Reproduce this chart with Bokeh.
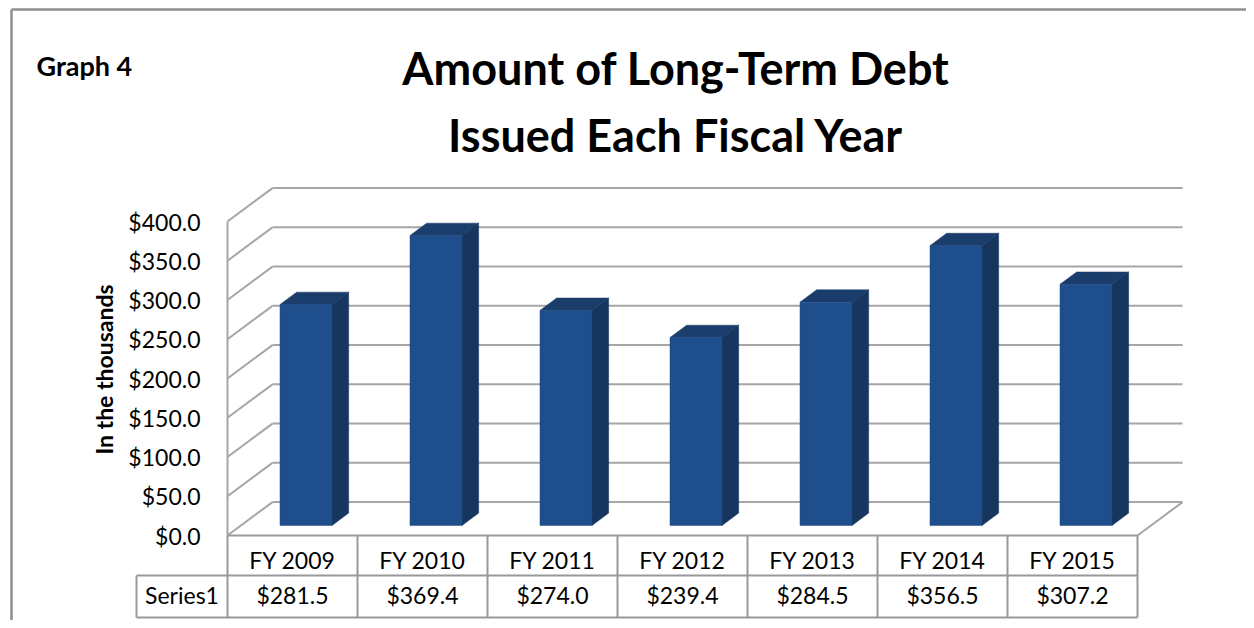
import math
from bokeh.plotting import figure
from bokeh.models import Range1d, LinearAxis, FixedTicker, NumeralTickFormatter, ColumnDataSource
from bokeh.core.properties import value
from bokeh.embed import file_html
from bokeh.resources import INLINE

# ---------------- data ----------------
categories = ["FY 2009", "FY 2010", "FY 2011", "FY 2012", "FY 2013", "FY 2014", "FY 2015"]
amounts = [281.5, 369.4, 274.0, 239.4, 284.5, 356.5, 307.2]
y_ticks = [0, 50, 100, 150, 200, 250, 300, 350, 400]
series_name = "Series1"
title_lines = ["Amount of Long-Term Debt", "Issued Each Fiscal Year"]
graph_label = "Graph 4"
y_label = "In the thousands"

# ---------------- layout constants ----------------
W, H = 1246, 620
PAGE = 0
OX, OY = 227.0, 535.0        # pixel of the front-plane origin (x=0, $0)
SX, SY = 130.0, 0.785        # pixels per category, pixels per dollar


def X(px):
    return (px - OX) / SX


def Y(py):
    return (OY - py) / SY


DX, DY = 45.0 / SX, 33.4 / SY   # full depth offset of the 3D box (data units)
D0, D1 = 0.30, 0.67             # bar front / back depth fractions
BW = 0.40                       # bar width (category units)
n = len(categories)
ymax = y_ticks[-1]

GRID = "#a6a6a6"
TBL = "#999999"
FONT = value("Lato")

p = figure(width=W, height=H,
           x_range=Range1d(X(PAGE), X(PAGE + W)),
           y_range=Range1d(Y(PAGE + H), Y(PAGE)),
           x_axis_location=None, y_axis_location=None,
           toolbar_location=None, output_backend="svg",
           min_border=0, outline_line_color=None,
           background_fill_color="white", border_fill_color="white")
p.xgrid.grid_line_color = None
p.ygrid.grid_line_color = None

# ---------------- outer frame ----------------
p.multi_line(xs=[[X(11), X(11)], [X(11), X(1260)]],
             ys=[[Y(640), Y(9)], [Y(9), Y(9)]],
             line_color="#8f8f8f", line_width=2.5)

# ---------------- 3D walls / gridlines ----------------
gx, gy = [], []
for t in y_ticks:
    gx.append([0, DX]); gy.append([t, t + DY])            # left wall diagonals
    gx.append([DX, n + DX]); gy.append([t + DY, t + DY])  # back wall lines
gx.append([0, 0]); gy.append([0, ymax])                   # left wall front edge
gx.append([n, n + DX]); gy.append([0, DY])                # floor right edge
p.multi_line(xs=gx, ys=gy, line_color=GRID, line_width=2)

# ---------------- bars ----------------
front_x, front_y, side_x, side_y, top_x, top_y = [], [], [], [], [], []
for i, v in enumerate(amounts):
    x0 = i + 0.5 - BW / 2
    x1 = i + 0.5 + BW / 2
    fx0, fx1, fb = x0 + D0 * DX, x1 + D0 * DX, D0 * DY
    bx0, bx1, bb = x0 + D1 * DX, x1 + D1 * DX, D1 * DY
    front_x.append([fx0, fx1, fx1, fx0]); front_y.append([fb, fb, v + fb, v + fb])
    side_x.append([fx1, bx1, bx1, fx1]); side_y.append([fb, bb, v + bb, v + fb])
    top_x.append([fx0, fx1, bx1, bx0]); top_y.append([v + fb, v + fb, v + bb, v + bb])
p.patches(xs=side_x, ys=side_y, fill_color="#16365f", line_color="#13305a", line_width=0.5)
p.patches(xs=top_x, ys=top_y, fill_color="#1a3d6c", line_color="#173866", line_width=0.5)
p.patches(xs=front_x, ys=front_y, fill_color="#1f4e8c", line_color="#1c4882", line_width=0.5)

# ---------------- data table ----------------
r1, r2 = Y(575), Y(617)
left_cell = X(136)
tx, ty = [], []
tx.append([0, n]); ty.append([0, 0])
tx.append([left_cell, n]); ty.append([r1, r1])
tx.append([left_cell, n]); ty.append([r2, r2])
tx.append([left_cell, left_cell]); ty.append([r1, r2])
for i in range(n + 1):
    tx.append([i, i]); ty.append([0, r2])
p.multi_line(xs=tx, ys=ty, line_color=TBL, line_width=2)

cat_src = ColumnDataSource(dict(x=[i + 0.5 for i in range(n)],
                                y=[Y(559)] * n, text=categories))
p.text(x="x", y="y", text="text", source=cat_src, text_font=FONT,
       text_font_size="23px", text_align="center", text_baseline="middle",
       text_color="black")
val_src = ColumnDataSource(dict(x=[i + 0.5 for i in range(n)],
                                y=[Y(594)] * n,
                                text=["${:.1f}".format(v) for v in amounts]))
p.text(x="x", y="y", text="text", source=val_src, text_font=FONT,
       text_font_size="23px", text_align="center", text_baseline="middle",
       text_color="black")
p.text(x=[(left_cell + 0) / 2], y=[Y(594)], text=[series_name], text_font=FONT,
       text_font_size="23px", text_align="center", text_baseline="middle",
       text_color="black")

# ---------------- titles and labels ----------------
p.text(x=[X(675.5), X(675.5)], y=[Y(67), Y(134)], text=title_lines, text_font=FONT,
       text_font_style="bold", text_font_size="45px", text_align="center",
       text_baseline="middle", text_color="black")
p.text(x=[X(36)], y=[Y(64.5)], text=[graph_label], text_font=FONT,
       text_font_style="bold", text_font_size="27px", text_align="left",
       text_baseline="middle", text_color="black")
p.text(x=[X(103.5)], y=[Y(369)], text=[y_label], text_font=FONT,
       text_font_style="bold", text_font_size="23px", text_align="center",
       text_baseline="middle", angle=math.pi / 2, text_color="black")

# ---------------- y axis on the front plane ----------------
ax = LinearAxis(fixed_location=0, ticker=FixedTicker(ticks=y_ticks),
                formatter=NumeralTickFormatter(format="$0.0"))
ax.axis_line_color = None
ax.major_tick_line_color = None
ax.minor_tick_line_color = None
ax.major_tick_out = 0
ax.major_tick_in = 0
ax.major_label_standoff = 27
ax.major_label_text_font = "Lato"
ax.major_label_text_font_size = "23px"
ax.major_label_text_color = "black"
p.add_layout(ax, "left")

open("out.html", "w").write(file_html(p, INLINE))
